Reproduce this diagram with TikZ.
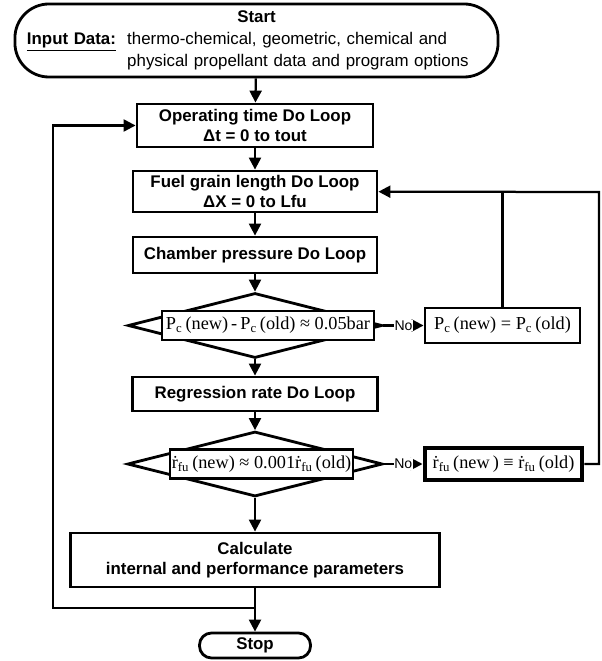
\documentclass[tikz,border=0pt]{standalone}
\usepackage{fontspec}
\setmainfont{Liberation Sans}
\newfontfamily\tnr{Liberation Serif}
\usetikzlibrary{shapes.geometric,arrows.meta}

\begin{document}
\begin{tikzpicture}[x=0.025cm, y=-0.025cm,
	proc/.style={draw, rectangle, line width=2pt, fill=white, align=center, inner sep=0pt, font=\bfseries\fontsize{12}{14}\selectfont},
	cond/.style={draw, diamond, line width=2pt, inner sep=0pt},
	test/.style={draw, rectangle, line width=2pt, fill=white, inner sep=0pt, font=\tnr\fontsize{13}{15}\selectfont},
	flow/.style={line width=1.6pt, -{Triangle[length=8.5pt, width=8.5pt]}},
	no/.style={fill=white, inner sep=0.5pt, font=\fontsize{10}{10}\selectfont}]
				\useasboundingbox (0, 0) rectangle (601, 661);
				\node[draw, rectangle, line width=2pt, rounded corners=0.85cm, inner sep=0pt, minimum width=12.075cm, minimum height=1.825cm, text width=11.475cm, align=left, font=\fontsize{12}{15.5}\selectfont] (ST)at(256.5, 40.5) {\makebox[11.475cm]{\bfseries Start}\\ \textbf{\underline{Input Data:}}\ \ thermo-chemical, geometric, chemical and\\ \phantom{\textbf{Input Data:}\ \ }physical propellant data and program options};
				\node[proc, minimum width=5.9cm, minimum height=1.075cm] (OT)at(255, 125.5) {Operating time Do Loop\\ Δt = 0 to tout};
				\node[proc, minimum width=6.1cm, minimum height=1.025cm] (FG)at(255, 191.5) {Fuel grain length Do Loop\\ ΔX = 0 to Lfu};
				\node[proc, minimum width=6.1cm, minimum height=0.9cm] (CP)at(255, 255) {Chamber pressure Do Loop};
				\node[cond, minimum width=6.35cm, minimum height=1.625cm] (D1)at(255, 325.5) {};
				\node[test, minimum width=5.3cm, minimum height=0.725cm] (D1t)at(268, 325.5) {P\textsubscript{c}\,(new)\,-\,P\textsubscript{c}\,(old) ≈ 0.05bar};
				\node[test, minimum width=3.875cm, minimum height=0.875cm] (PC)at(502.5, 325.5) {P\textsubscript{c}\,(new) = P\textsubscript{c}\,(old)};
				\node[proc, minimum width=6.125cm, minimum height=0.85cm] (RR)at(255, 394) {Regression rate Do Loop};
				\node[cond, minimum width=6.375cm, minimum height=1.625cm] (D2)at(255, 464) {};
				\node[test, minimum width=4.575cm, minimum height=0.725cm] (D2t)at(261.5, 464) {\.r\textsubscript{fu}\,(new) ≈ 0.001\.r\textsubscript{fu}\,(old)};
				\node[test, line width=3.5pt, minimum width=3.925cm, minimum height=0.8cm] (RF)at(503.5, 464) {\.r\textsubscript{fu}\,(new\,) ≡ \.r\textsubscript{fu}\,(old)};
				\node[proc, minimum width=9.225cm, minimum height=1.35cm] (CA)at(255, 560) {Calculate\\ internal and performance parameters};
				\node[proc, rounded corners=0.3cm, minimum width=2.775cm, minimum height=0.625cm] (SP)at(255, 645.5) {Stop};
				\coordinate (R1)at(599, 192);
				\coordinate (J1)at(255, 608);
				\coordinate (L1)at(53, 608);
				\draw[flow] (ST) -- (OT);
				\draw[flow] (OT) -- (FG);
				\draw[flow] (FG) -- (CP);
				\draw[flow] (CP) -- (D1);
				\draw[flow] (D1) -- node[no] {No} (PC);
				\draw[line width=1.6pt] (PC) -- (PC |- R1);
				\draw[flow] (D1) -- (RR);
				\draw[flow] (RR) -- (D2);
				\draw[flow] (D2) -- node[no] {No} (RF);
				\draw[flow] (RF) -| (R1) -- (FG);
				\draw[flow] (D2) -- (CA);
				\draw[flow] (CA) -- (SP);
				\draw[flow] (J1) -- (L1) |- (OT);
			\end{tikzpicture}
\end{document}
